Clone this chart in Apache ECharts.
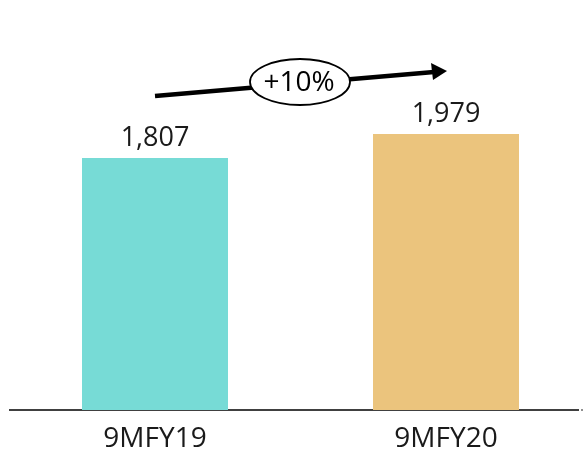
<!DOCTYPE html>
<html>
<head>
<meta charset="utf-8">
<script src="https://cdn.jsdelivr.net/npm/echarts@6/dist/echarts.min.js"></script>
<style>
  html, body { margin: 0; padding: 0; background: #fff; }
  #chart { width: 584px; height: 451px; }
</style>
</head>
<body>
<div id="chart"></div>
<script>
// data
const categories = ['9MFY19', '9MFY20']
const values = [1807, 1979]
const barColors = ['#77dbd6', '#ebc47d']
const growthLabel = '+10%'

const chart = echarts.init(document.getElementById('chart'))
const font = "'Open Sans', 'Noto Sans', sans-serif"

chart.setOption({
  animation: false,
  grid: { left: 9.5, width: 582, top: 0, bottom: 41, outerBoundsMode: 'none', containLabel: false },
  xAxis: {
    type: 'category',
    data: categories,
    axisLine: { show: false },
    axisTick: { show: false },
    axisLabel: {
      color: '#1a1a1a',
      fontSize: 28,
      fontFamily: font,
      margin: 15
    }
  },
  yAxis: {
    type: 'value',
    min: 0,
    max: 2940,
    show: false
  },
  series: [
    {
      type: 'bar',
      barWidth: 146,
      data: values.map((v, i) => ({ value: v, itemStyle: { color: barColors[i] } })),
      label: {
        show: true,
        position: 'top',
        distance: 6,
        color: '#1a1a1a',
        fontSize: 27,
        fontFamily: font,
        formatter: p => p.value.toLocaleString('en-US')
      }
    }
  ],
  graphic: [
    // baseline
    {
      type: 'line',
      shape: { x1: 9, y1: 410, x2: 579, y2: 410 },
      style: { stroke: '#000', lineWidth: 1.5 }
    },
    {
      type: 'circle',
      shape: { cx: 582, cy: 410, r: 0.8 },
      style: { fill: '#000' }
    },
    // growth arrow
    {
      type: 'line',
      shape: { x1: 155, y1: 96, x2: 434, y2: 72 },
      style: { stroke: '#000', lineWidth: 4.5 }
    },
    {
      type: 'polygon',
      shape: { points: [[447, 71], [431, 63], [433, 80]] },
      style: { fill: '#000' }
    },
    {
      type: 'ellipse',
      shape: { cx: 300, cy: 82, rx: 50, ry: 23 },
      style: { fill: '#fff', stroke: '#000', lineWidth: 1.8 }
    },
    {
      type: 'text',
      x: 299,
      y: 83,
      style: {
        text: growthLabel,
        fill: '#000',
        font: "28px 'Open Sans', 'Noto Sans', sans-serif",
        textAlign: 'center',
        textVerticalAlign: 'middle'
      }
    }
  ]
})
</script>
</body>
</html>
